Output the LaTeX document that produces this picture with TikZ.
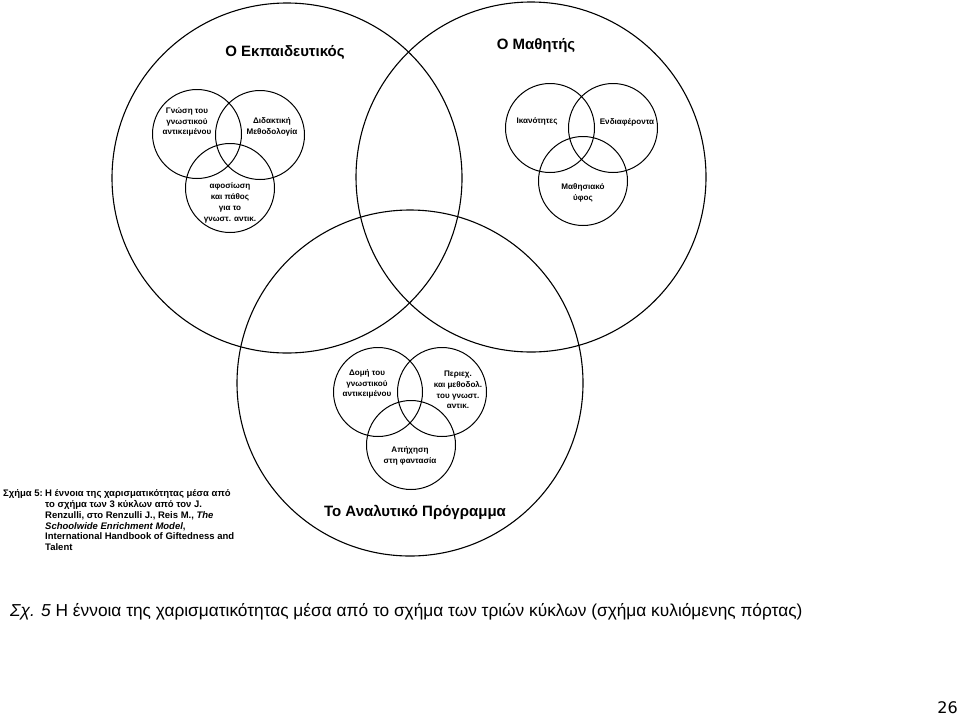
\documentclass[tikz,border=0pt]{standalone}
\usepackage{fontspec}
\setmainfont{Liberation Sans}
\newfontfamily\capfont{DejaVu Sans}
\begin{document}
\begin{tikzpicture}[x=1pt,y=-1pt,
  bigc/.style={circle,draw,line width=1.1pt,inner sep=0pt},
  smallc/.style={circle,draw,line width=1pt,minimum size=89pt,inner sep=0pt},
  small/.style={font=\fontsize{8.1}{10.8}\selectfont\bfseries,align=center,inner sep=0pt},
  big/.style={font=\fontsize{15}{17}\selectfont\bfseries,inner sep=0pt},
  capt/.style={font=\fontsize{9.5}{10}\selectfont\bfseries,anchor=base west,inner sep=0pt}]
\useasboundingbox (0,0) rectangle (960,715);
% big circles
\node[bigc,minimum size=350pt] (teacher) at (287,178) {};
\node[bigc,minimum size=350pt] (student) at (531,177) {};
\node[bigc,minimum size=346pt] (program) at (410,383) {};
% teacher sub-circles
\node[smallc] (t1) at (197,134) {};
\node[smallc] (t2) at (260,135) {};
\node[smallc] (t3) at (230,188) {};
% student sub-circles
\node[smallc] (s1) at (550,128) {};
\node[smallc] (s2) at (613,128) {};
\node[smallc] (s3) at (583,181) {};
% program sub-circles
\node[smallc] (p1) at (378,392) {};
\node[smallc] (p2) at (442,392) {};
\node[smallc] (p3) at (411,445) {};
% big labels
\node[big] (lt) at (285,52) {Ο Εκπαιδευτικός};
\node[big] (ls) at (536,46) {Ο Μαθητής};
\node[big] (lp) at (415,512) {Το Αναλυτικό Πρόγραμμα};
% small labels
\node[small] (tt1) at (187,122) {Γνώση του\\γνωστικού\\αντικειμένου};
\node[small] (tt2) at (272,127) {Διδακτική\\Μεθοδολογία};
\node[small] (tt3) at (230,203) {αφοσίωση\\και πάθος\\για το\\γνωστ. αντικ.};
\node[small] (ts1) at (537,121) {Ικανότητες};
\node[small] (ts2) at (627,122) {Ενδιαφέροντα};
\node[small] (ts3) at (583,193) {Μαθησιακό\\ύφος};
\node[small] (tp1) at (367,384) {Δομή του\\γνωστικού\\αντικειμένου};
\node[small] (tp2) at (458,390) {Περιεχ.\\και μεθοδολ.\\του γνωστ.\\αντικ.};
\node[small] (tp3) at (410,456) {Απήχηση\\στη φαντασία};
% left caption
\node[capt] (c0) at (3,496) {Σχήμα 5:};
\node[capt] (c1) at (45,496) {Η έννοια της χαρισματικότητας μέσα από};
\node[capt] (c2) at (45,507) {το σχήμα των 3 κύκλων από τον J.};
\node[capt] (c3) at (45,518) {Renzulli, στο Renzulli J., Reis M., \textit{The}};
\node[capt] (c4) at (45,529) {\textit{Schoolwide Enrichment Model},};
\node[capt] (c5) at (45,539) {International Handbook of Giftedness and};
\node[capt] (c6) at (45,550) {Talent};
% bottom caption
\node[font=\fontsize{17.3}{20}\selectfont,anchor=base west,inner sep=0pt] (fig) at (10,616)
  {\textit{Σχ. 5} Η έννοια της χαρισματικότητας μέσα από το σχήμα των τριών κύκλων (σχήμα κυλιόμενης πόρτας)};
\node[font=\capfont\fontsize{16}{18}\selectfont,anchor=base east,inner sep=0pt] (page) at (958,713) {26};
\end{tikzpicture}
\end{document}
